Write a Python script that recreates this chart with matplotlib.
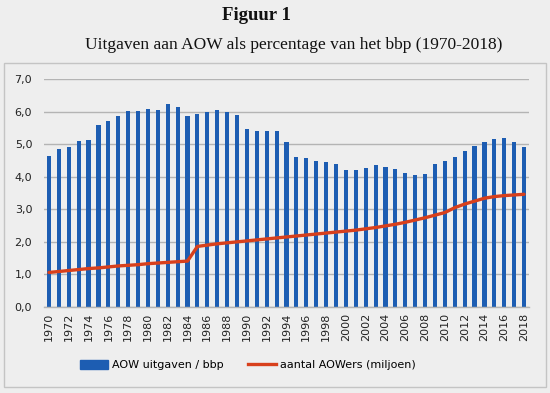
import matplotlib
matplotlib.use("Agg")
import matplotlib.pyplot as plt
import matplotlib.patches as mpatches
from matplotlib.lines import Line2D
import numpy as np

years = list(range(1970, 2019))
aow_bbp = [4.65, 4.85, 4.90, 5.09, 5.14, 5.59, 5.71, 5.87, 6.01, 6.02,
           6.07, 6.05, 6.24, 6.13, 5.87, 5.93, 5.99, 6.04, 5.99, 5.88,
           5.47, 5.41, 5.41, 5.39, 5.07, 4.59, 4.58, 4.49, 4.45, 4.38,
           4.21, 4.20, 4.26, 4.36, 4.31, 4.24, 4.12, 4.05, 4.08, 4.40,
           4.47, 4.60, 4.80, 4.95, 5.07, 5.17, 5.20, 5.06, 4.92]
aowers = [1.06, 1.09, 1.12, 1.15, 1.18, 1.20, 1.23, 1.26, 1.28, 1.30,
          1.33, 1.35, 1.37, 1.39, 1.41, 1.86, 1.90, 1.94, 1.97, 2.00,
          2.03, 2.06, 2.09, 2.12, 2.15, 2.18, 2.21, 2.24, 2.27, 2.30,
          2.33, 2.36, 2.40, 2.44, 2.49, 2.54, 2.60, 2.67, 2.74, 2.82,
          2.90, 3.05, 3.16, 3.25, 3.34, 3.39, 3.42, 3.44, 3.46]
yticks = [0, 1, 2, 3, 4, 5, 6, 7]

bg = "#eeeeee"
bar_color = "#1d5db2"
line_color = "#d8401c"

fig = plt.figure(figsize=(5.5, 3.93), dpi=100, facecolor=bg)
ax = fig.add_axes([44/550, 1-307/393, (529-44)/550, (307-79)/393])
ax.set_facecolor(bg)

x = np.arange(len(years))
ax.bar(x, aow_bbp, width=0.42, color=bar_color, zorder=2)
ax.plot(x, aowers, color=line_color, lw=2.4, zorder=3, solid_capstyle="round")

ax.set_xlim(-0.5, len(years) - 0.5)
ax.set_ylim(0, 7)
ax.set_yticks(yticks)
ax.set_yticklabels([f"{v:.1f}".replace(".", ",") for v in yticks], fontsize=8, color="#222222")
ax.set_xticks(x[::2])
ax.set_xticklabels([str(y) for y in years[::2]], rotation=90, fontsize=8, color="#222222")
ax.tick_params(axis="both", length=0, pad=4)
ax.tick_params(axis="y", pad=8.5)
ax.grid(axis="y", color="#b4b4b4", lw=1.0, zorder=0)
for s in ["top", "right", "left"]:
    ax.spines[s].set_visible(False)
ax.spines["bottom"].set_color("#b4b4b4")
ax.spines["bottom"].set_linewidth(1.0)

# border box
fig.patches.append(mpatches.Rectangle((4/550, 1-387/393), 542/550, 324/393,
                                      transform=fig.transFigure, fill=False,
                                      edgecolor="#c4c4c4", lw=1.0))

fig.text(256/550, 1-15/393, "Figuur 1", ha="center", va="center",
         fontsize=13.5, fontweight="bold", family="Liberation Serif", color="#111111")
fig.text(294/550, 1-45/393, "Uitgaven aan AOW als percentage van het bbp (1970-2018)",
         ha="center", va="center", fontsize=12.5, family="Liberation Serif", color="#111111")

handles = [mpatches.Patch(color=bar_color, label="AOW uitgaven / bbp"),
           Line2D([0], [0], color=line_color, lw=2.4, label="aantal AOWers (miljoen)")]
fig.legend(handles=handles, loc="center", bbox_to_anchor=(248/550, 1-365/393),
           ncol=2, frameon=False, fontsize=8, handlelength=2.5, handleheight=0.9,
           columnspacing=2.25, handletextpad=0.36)

fig.savefig("out.png", dpi=100, facecolor=bg)
